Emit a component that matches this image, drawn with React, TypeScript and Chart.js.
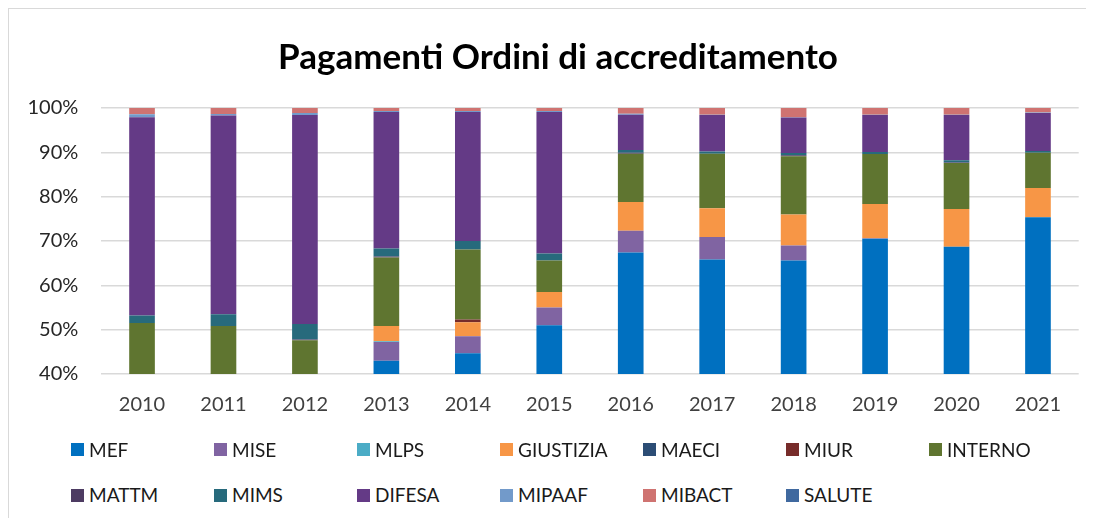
import React, { useEffect, useRef } from "react";
import { Chart, registerables } from "chart.js";

Chart.register(...registerables);

const years = ["2010", "2011", "2012", "2013", "2014", "2015", "2016", "2017", "2018", "2019", "2020", "2021"];
const yTicks = [40, 50, 60, 70, 80, 90, 100];

const MEF = [28, 27, 26, 43.0, 44.7, 51.0, 67.4, 65.8, 65.6, 70.5, 68.7, 75.35];
const MISE = [3, 3, 3, 4.2, 3.8, 4.0, 4.9, 5.1, 3.4, 0.1, 0, 0];
const MLPS = [0.3, 0.3, 0.3, 0.2, 0, 0, 0, 0, 0, 0, 0, 0];
const GIUSTIZIA = [4, 4, 4, 3.4, 3.2, 3.5, 6.5, 6.5, 7.0, 7.75, 8.5, 6.6];
const MAECI = [0.5, 0.5, 0.5, 0, 0, 0, 0, 0, 0, 0, 0, 0];
const MIUR = [0.2, 0.2, 0.2, 0, 0.6, 0, 0, 0, 0, 0, 0, 0];
const INTERNO = [15.5, 15.8, 13.6, 15.5, 15.8, 7.1, 10.9, 12.3, 13.1, 11.25, 10.4, 7.95];
const MATTM = [0, 0, 0.2, 0.2, 0, 0, 0.2, 0, 0.25, 0, 0.1, 0];
const MIMS = [1.7, 2.7, 3.5, 1.8, 1.9, 1.6, 0.6, 0.5, 0.5, 0.5, 0.5, 0.4];
const DIFESA = [44.7, 44.8, 47.1, 30.8, 29.1, 31.9, 8.0, 8.2, 8.0, 8.3, 10.2, 8.6];
const MIPAAF = [0.7, 0.35, 0.5, 0.2, 0.2, 0.2, 0.2, 0.1, 0.05, 0.1, 0.1, 0.1];
const MIBACT = [1.4, 1.35, 1.1, 0.7, 0.7, 0.7, 1.3, 1.5, 2.1, 1.5, 1.5, 1.0];
const SALUTE = [0, 0, 0, 0, 0, 0, 0, 0, 0, 0, 0, 0];

const seriesNames = ["MEF", "MISE", "MLPS", "GIUSTIZIA", "MAECI", "MIUR", "INTERNO", "MATTM", "MIMS", "DIFESA", "MIPAAF", "MIBACT", "SALUTE"];
const seriesValues = [MEF, MISE, MLPS, GIUSTIZIA, MAECI, MIUR, INTERNO, MATTM, MIMS, DIFESA, MIPAAF, MIBACT, SALUTE];
const seriesColors = ["#0070C0", "#8064A2", "#4BACC6", "#F79646", "#2C4D75", "#772C2A", "#5F7530", "#4D3B62", "#276A7C", "#643A86", "#729ACA", "#CF7371", "#40699F"];

const title = "Pagamenti Ordini di accreditamento";

export default function App() {
  const canvasRef = useRef<HTMLCanvasElement | null>(null);

  useEffect(() => {
    if (!canvasRef.current) return;
    const chart = new Chart(canvasRef.current, {
      type: "bar",
      data: {
        labels: years,
        datasets: seriesNames.map((name, i) => ({
          label: name,
          data: seriesValues[i],
          backgroundColor: seriesColors[i],
          borderWidth: 0,
          barPercentage: 0.315,
          categoryPercentage: 1,
        })),
      },
      options: {
        animation: false,
        responsive: false,
        maintainAspectRatio: false,
        layout: { padding: { top: 100, left: 5, right: 15.3, bottom: 11 } },
        plugins: {
          legend: { display: false },
          tooltip: { enabled: false },
          title: { display: false },
        },
        scales: {
          x: {
            stacked: true,
            grid: { display: false, drawTicks: false },
            border: { display: false },
            ticks: { color: "#404040", font: { family: "Lato", size: 20 }, padding: 19, maxRotation: 0 },
          },
          y: {
            stacked: true,
            min: 40,
            max: 100,
            afterBuildTicks: (scale: any) => {
              scale.ticks = yTicks.map((v) => ({ value: v }));
            },
            afterFit: (scale: any) => {
              scale.width = 88.3;
            },
            grid: { color: "#d9d9d9", lineWidth: 1.6, drawTicks: false },
            border: { display: false },
            ticks: {
              color: "#262626",
              font: { family: "Lato", size: 20 },
              padding: 23,
              callback: (v: any) => v + "%",
            },
          },
        },
      },
    });
    return () => chart.destroy();
  }, []);

  return (
    <div style={{ position: "relative", width: 1086, height: 510, fontFamily: "Lato" }}>
      <div
        style={{
          position: "absolute",
          left: 0,
          top: 0,
          width: 1086,
          height: 510,
          borderLeft: "1px solid #d9d9d9",
          borderTop: "1px solid #d9d9d9",
          boxSizing: "border-box",
        }}
      />
      <canvas
        ref={canvasRef}
        width={1086}
        height={439}
        style={{ position: "absolute", left: 0, top: 0, width: 1086, height: 439 }}
      />
      <div
        style={{
          position: "absolute",
          left: 150,
          width: 800,
          top: 27,
          height: 40,
          lineHeight: "40px",
          textAlign: "center",
          fontSize: 35,
          fontWeight: "bold",
          color: "#000000",
          whiteSpace: "nowrap",
        }}
      >
        {title}
      </div>
      {seriesNames.map((name, i) => {
        const row = i < 7 ? 0 : 1;
        const col = i % 7;
        const cy = row === 0 ? 441.7 : 487;
        return (
          <div
            key={name}
            style={{
              position: "absolute",
              left: 63 + 143 * col,
              top: cy - 12,
              height: 24,
              display: "flex",
              alignItems: "center",
              whiteSpace: "nowrap",
            }}
          >
            <span style={{ display: "inline-block", width: 13, height: 13, background: seriesColors[i], marginRight: 5 }} />
            <span style={{ fontSize: 19, color: "#1a1a1a", lineHeight: "24px" }}>{name}</span>
          </div>
        );
      })}
    </div>
  );
}
